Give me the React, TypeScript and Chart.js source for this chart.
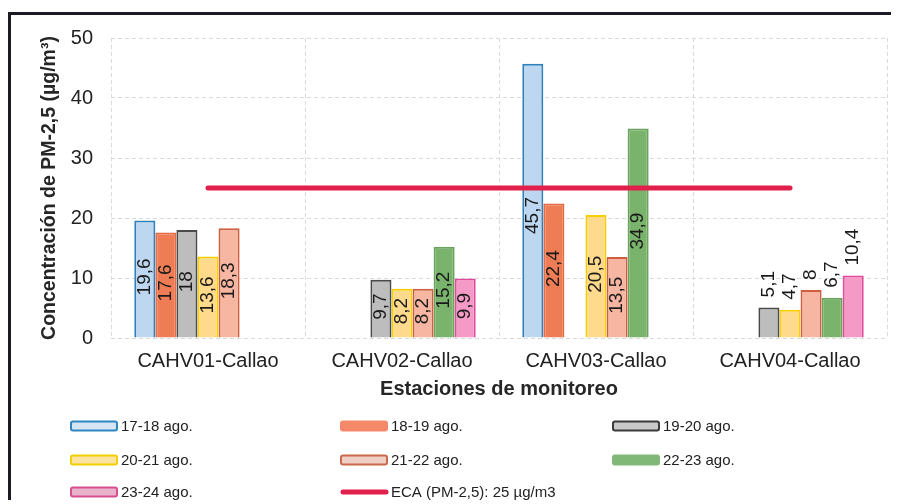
import React, { useEffect, useRef } from "react";
import { Chart, registerables } from "chart.js";

Chart.register(...registerables);

// ---------- DATA ----------
const categories = ["CAHV01-Callao", "CAHV02-Callao", "CAHV03-Callao", "CAHV04-Callao"];
const seriesNames = ["17-18 ago.", "18-19 ago.", "19-20 ago.", "20-21 ago.", "21-22 ago.", "22-23 ago.", "23-24 ago."];
const s1718 = [19.6, null, 45.7, null];
const s1819 = [17.6, null, 22.4, null];
const s1920 = [18, 9.7, null, 5.1];
const s2021 = [13.6, 8.2, 20.5, 4.7];
const s2122 = [18.3, 8.2, 13.5, 8];
const s2223 = [null, 15.2, 34.9, 6.7];
const s2324 = [null, 9.9, null, 10.4];
const ecaName = "ECA (PM-2,5): 25 µg/m3";
const ecaValues = [25, 25, 25, 25];
const yMin = 0;
const yMax = 50;
const yStep = 10;
const yTitle = "Concentración de PM-2,5 (µg/m³)";
const xTitle = "Estaciones de monitoreo";

// ---------- STYLES ----------
const FONT = '"Liberation Sans", Arial, sans-serif';
const barFills = ["#bcd7ef", "#ee7d55", "#bdbdbd", "#ffd98c", "#f7b6a1", "#7ab36b", "#f59ac7"];
const barBorders = ["#2f80bd", "#e56a42", "#4a4a4a", "#f7cf00", "#cf5e3e", "#6aa35c", "#e2499a"];
const legendFills = ["#d5e5f3", "#f4896a", "#c8c8c8", "#fde2a0", "#f0cfc4", "#80b878", "#e8b3cb"];
const legendBorders = ["#2e86c1", "#f4896a", "#3a3a3a", "#f2d000", "#c96a4e", "#80b878", "#d84f8f"];
const ecaColor = "#e0204a";
const outsideLabelCategories = [3];

const allSeries = [s1718, s1819, s1920, s2021, s2122, s2223, s2324];

const fmt = (v: number) => String(v).replace(".", ",");

const customPlugin = {
  id: "customDraw",
  afterDatasetsDraw(chart: any) {
    const ctx = chart.ctx;
    const lineY = chart.scales.y.getPixelForValue(ecaValues[0]);
    ctx.save();
    ctx.font = `19px ${FONT}`;
    ctx.fillStyle = "#1a1a1a";
    chart.data.datasets.forEach((ds: any, di: number) => {
      if (ds.type === "line") return;
      const meta = chart.getDatasetMeta(di);
      meta.data.forEach((el: any, i: number) => {
        const v = ds.data[i];
        if (v == null) return;
        const { x, y, base } = el.getProps(["x", "y", "base"], true);
        const txt = fmt(v);
        const len = ctx.measureText(txt).width;
        ctx.save();
        if (outsideLabelCategories.includes(i)) {
          ctx.translate(x, y - 10);
          ctx.rotate(-Math.PI / 2);
          ctx.textAlign = "left";
          ctx.textBaseline = "middle";
        } else {
          let cy = (y + base) / 2 - 2;
          if (cy - len / 2 < lineY + 8 && cy + len / 2 > lineY - 8) {
            cy = lineY + 9 + len / 2;
          }
          ctx.translate(x, cy);
          ctx.rotate(-Math.PI / 2);
          ctx.textAlign = "center";
          ctx.textBaseline = "middle";
        }
        ctx.fillText(txt, 0, 0);
        ctx.restore();
      });
    });
    ctx.restore();
  },
  afterDraw(chart: any) {
    const ctx = chart.ctx;
    const area = chart.chartArea;
    ctx.save();
    // x axis title
    ctx.font = `bold 20px ${FONT}`;
    ctx.fillStyle = "#262626";
    ctx.textAlign = "center";
    ctx.textBaseline = "middle";
    ctx.fillText(xTitle, (area.left + area.right) / 2, area.bottom + 51);

    // legend
    const items: any[] = seriesNames.map((n, i) => ({ text: n, kind: "box", i }));
    items.push({ text: ecaName, kind: "line" });
    const colX = [59, 329, 601];
    const rowY = [411, 445, 477];
    ctx.font = `15px ${FONT}`;
    ctx.textAlign = "left";
    items.forEach((it, k) => {
      const cx = colX[k % 3];
      const cy = rowY[Math.floor(k / 3)];
      if (it.kind === "box") {
        ctx.fillStyle = legendFills[it.i];
        ctx.strokeStyle = legendBorders[it.i];
        ctx.lineWidth = 2;
        ctx.beginPath();
        ctx.roundRect(cx + 1, cy - 4.5, 46, 9, 2);
        ctx.fill();
        ctx.stroke();
      } else {
        ctx.strokeStyle = ecaColor;
        ctx.lineWidth = 5;
        ctx.lineCap = "round";
        ctx.beginPath();
        ctx.moveTo(cx + 3, cy);
        ctx.lineTo(cx + 46, cy);
        ctx.stroke();
      }
      ctx.fillStyle = "#222";
      ctx.fillText(it.text, cx + 51, cy + 1);
    });
    ctx.restore();
  },
};

export default function App() {
  const ref = useRef<HTMLCanvasElement>(null);
  useEffect(() => {
    if (!ref.current) return;
    const datasets: any[] = allSeries.map((d, i) => ({
      type: "bar",
      label: seriesNames[i],
      data: d,
      backgroundColor: barFills[i],
      borderColor: barBorders[i],
      borderWidth: 2,
      categoryPercentage: 0.76,
      barPercentage: 1,
      order: 1,
    }));
    datasets.push({
      type: "line",
      label: ecaName,
      data: ecaValues,
      borderColor: ecaColor,
      borderWidth: 5,
      borderCapStyle: "round",
      pointRadius: 0,
      fill: false,
      order: 0,
    });
    const chart = new Chart(ref.current, {
      type: "bar",
      data: { labels: categories, datasets },
      options: {
        animation: false,
        responsive: false,
        layout: { padding: { left: 0, right: 12, top: 23, bottom: 106 } },
        plugins: { legend: { display: false }, tooltip: { enabled: false } },
        scales: {
          x: {
            offset: true,
            grid: { offset: true, color: "#dadada", drawTicks: false, lineWidth: 1 },
            border: { display: false, dash: [4, 3] },
            ticks: { font: { size: 20, family: FONT }, color: "#222", padding: 11 },
            afterFit: (s: any) => {
              s.height = 60;
              s.paddingLeft = 0;
              s.paddingRight = 0;
            },
          },
          y: {
            min: yMin,
            max: yMax,
            ticks: { stepSize: yStep, font: { size: 20, family: FONT }, color: "#222", padding: 18 },
            grid: { color: "#dadada", drawTicks: false, lineWidth: 1 },
            border: { display: false, dash: [4, 3] },
            title: {
              display: true,
              text: yTitle,
              font: { size: 19.5, weight: "bold", family: FONT },
              color: "#262626",
              padding: { top: 27, bottom: 0 },
            },
            afterFit: (s: any) => {
              s.width = 100;
              s.paddingTop = 0;
              s.paddingBottom = 0;
            },
          },
        },
      },
      plugins: [customPlugin],
    } as any);
    return () => chart.destroy();
  }, []);
  return (
    <div style={{ position: "relative", top: 4, width: 888, borderLeft: "3px solid #1b1b26", borderTop: "3px solid #1b1b26", background: "#fff" }}>
      <canvas ref={ref} width={888} height={489} style={{ display: "block" }} />
    </div>
  );
}
